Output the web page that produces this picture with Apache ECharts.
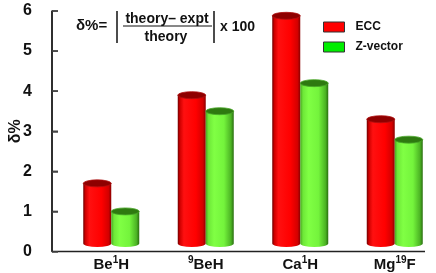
<!DOCTYPE html>
<html><head><meta charset="utf-8">
<script src="https://cdn.jsdelivr.net/npm/echarts@6/dist/echarts.min.js"></script>
<style>html,body{margin:0;padding:0;background:#fff}#c{width:436px;height:273px}</style>
</head><body><div id="c"></div>
<script>
// ---- data ----
const categories = ['Be1H', '9BeH', 'Ca1H', 'Mg19F'];
const categoryLabels = ['Be{s|1}H', '{s|9}BeH', 'Ca{s|1}H', 'Mg{s|19}F'];
const seriesNames = ['ECC', 'Z-vector'];
const eccValues = [1.70, 3.90, 5.88, 3.30];
const zvecValues = [1.00, 3.50, 4.20, 2.79];
const yTicks = [0, 1, 2, 3, 4, 5, 6];

// ---- style ----
const FONT = '"Liberation Sans", Arial, sans-serif';
const BASE = 0.2;      // floor of the 3D columns
const BAR_W = 28;
const AX_LEFT = 52, AX_RIGHT = 425, AX_TOP = 11, AX_BOTTOM = 251.5;
const redBody = [
  {offset: 0, color: '#6e0000'}, {offset: 0.08, color: '#d00000'}, {offset: 0.22, color: '#ff1010'},
  {offset: 0.65, color: '#ff0000'}, {offset: 0.9, color: '#d40000'}, {offset: 1, color: '#8a0000'}];
const greenBody = [
  {offset: 0, color: '#48a820'}, {offset: 0.1, color: '#6ee838'}, {offset: 0.3, color: '#80ff44'},
  {offset: 0.65, color: '#74f43c'}, {offset: 0.9, color: '#4cb424'}, {offset: 1, color: '#2a6e10'}];

function cylinderSeries(name, values, side, body, topFill, topStroke, legendColor) {
  return {
    type: 'custom', name: name, xAxisIndex: 1, yAxisIndex: 1,
    itemStyle: {color: legendColor},
    encode: {x: 0, y: 1},
    data: values.map((v, i) => [i, v]),
    renderItem: function (params, api) {
      const idx = api.value(0), v = api.value(1);
      const t = api.coord([idx, v]);
      const b = api.coord([idx, BASE]);
      const rx = BAR_W / 2, ry = 3.5;
      const cx = t[0] + side * rx;
      const L = cx - rx, R = cx + rx;
      const bodyPath = `M${L} ${t[1]} L${L} ${b[1]} A${rx} ${ry} 0 0 0 ${R} ${b[1]} L${R} ${t[1]} Z`;
      const topPath = `M${L} ${t[1]} A${rx} ${ry} 0 1 0 ${R} ${t[1]} A${rx} ${ry} 0 1 0 ${L} ${t[1]} Z`;
      return {type: 'group', children: [
        {type: 'path', shape: {pathData: bodyPath},
          style: {fill: new echarts.graphic.LinearGradient(0, 0, 1, 0, body)}},
        {type: 'path', shape: {pathData: topPath},
          style: {fill: topFill, stroke: topStroke, lineWidth: 0.8}}
      ]};
    }
  };
}

const graphics = [
  {type: 'text', left: 76, top: 18, style: {text: 'δ%=', font: 'bold 15px ' + FONT, fill: '#111'}},
  {type: 'line', shape: {x1: 117, y1: 11, x2: 117, y2: 43}, style: {stroke: '#111', lineWidth: 1.5}},
  {type: 'text', x: 167, y: 19, style: {text: 'theory– expt', font: 'bold 14px ' + FONT, fill: '#111', align: 'center', verticalAlign: 'middle'}},
  {type: 'line', shape: {x1: 123, y1: 26, x2: 212, y2: 26}, style: {stroke: '#111', lineWidth: 1}},
  {type: 'text', x: 166, y: 37, style: {text: 'theory', font: 'bold 14px ' + FONT, fill: '#111', align: 'center', verticalAlign: 'middle'}},
  {type: 'line', shape: {x1: 214, y1: 11, x2: 214, y2: 43}, style: {stroke: '#111', lineWidth: 1.5}},
  {type: 'text', x: 220, y: 27, style: {text: 'x 100', font: 'bold 14px ' + FONT, fill: '#111', verticalAlign: 'middle'}},
  // axis frame
  {type: 'line', shape: {x1: AX_LEFT, y1: AX_TOP, x2: AX_LEFT, y2: AX_BOTTOM}, style: {stroke: '#222', lineWidth: 1.5}},
  {type: 'line', shape: {x1: AX_LEFT, y1: AX_BOTTOM, x2: AX_RIGHT, y2: AX_BOTTOM}, style: {stroke: '#222', lineWidth: 1.5}}
];
const tickStep = (AX_BOTTOM - AX_TOP) / (yTicks.length - 1);
yTicks.slice(1).forEach((v, k) => {
  const y = AX_BOTTOM - (k + 1) * tickStep;
  graphics.push({type: 'line', shape: {x1: AX_LEFT, y1: y, x2: AX_LEFT + 6, y2: y}, style: {stroke: '#444', lineWidth: 1.5}});
});

const chart = echarts.init(document.getElementById('c'), null, {renderer: 'canvas'});
chart.setOption({
  animation: false,
  backgroundColor: '#fff',
  grid: [
    {left: AX_LEFT, right: 436 - AX_RIGHT, top: AX_TOP, bottom: 273 - AX_BOTTOM, containLabel: false, outerBoundsMode: 'none'},
    {left: 64, width: 378, top: 11, bottom: 29.5, containLabel: false, outerBoundsMode: 'none'}
  ],
  xAxis: [
    {gridIndex: 0, type: 'value', min: 0, max: 1, show: false},
    {gridIndex: 1, type: 'category', data: categories,
      axisLine: {show: false}, axisTick: {show: false},
      axisLabel: {
        interval: 0, margin: 12, lineHeight: 18,
        formatter: (v, i) => categoryLabels[i],
        color: '#111', fontFamily: FONT, fontWeight: 'bold', fontSize: 15,
        rich: {s: {fontSize: 10, fontWeight: 'bold', fontFamily: FONT, color: '#111', verticalAlign: 'top', lineHeight: 18}}
      }}
  ],
  yAxis: [
    {gridIndex: 0, type: 'value', min: yTicks[0], max: yTicks[yTicks.length - 1], interval: 1,
      name: 'δ%', nameLocation: 'middle', nameGap: 28, nameRotate: 90, nameMoveOverlap: false,
      nameTextStyle: {color: '#111', fontFamily: FONT, fontWeight: 'bold', fontSize: 16},
      axisLine: {show: true, lineStyle: {color: '#222', width: 1.5}},
      axisTick: {show: true, inside: true, length: 6, lineStyle: {color: '#444', width: 1.5}},
      axisLabel: {margin: 20, color: '#111', fontFamily: FONT, fontWeight: 'bold', fontSize: 16},
      splitLine: {show: false}},
    {gridIndex: 1, type: 'value', min: BASE, max: 6, show: false}
  ],
  legend: {
    orient: 'vertical', left: 323, top: 21, padding: 0, itemWidth: 21, itemHeight: 10, itemGap: 8,
    icon: 'rect',
    textStyle: {color: '#111', fontFamily: FONT, fontWeight: 'bold', fontSize: 12, padding: [0, 0, 0, 6]},
    data: [
      {name: seriesNames[0], itemStyle: {color: '#ff0000', borderColor: '#333', borderWidth: 1}},
      {name: seriesNames[1], itemStyle: {color: '#00ee00', borderColor: '#333', borderWidth: 1}}
    ]
  },
  graphic: graphics,
  series: [
    cylinderSeries(seriesNames[0], eccValues, -1, redBody, '#8e0000', '#b01010', '#ff0000'),
    cylinderSeries(seriesNames[1], zvecValues, 1, greenBody, '#2e7a10', '#4aa82a', '#00ee00')
  ]
});
</script></body></html>
